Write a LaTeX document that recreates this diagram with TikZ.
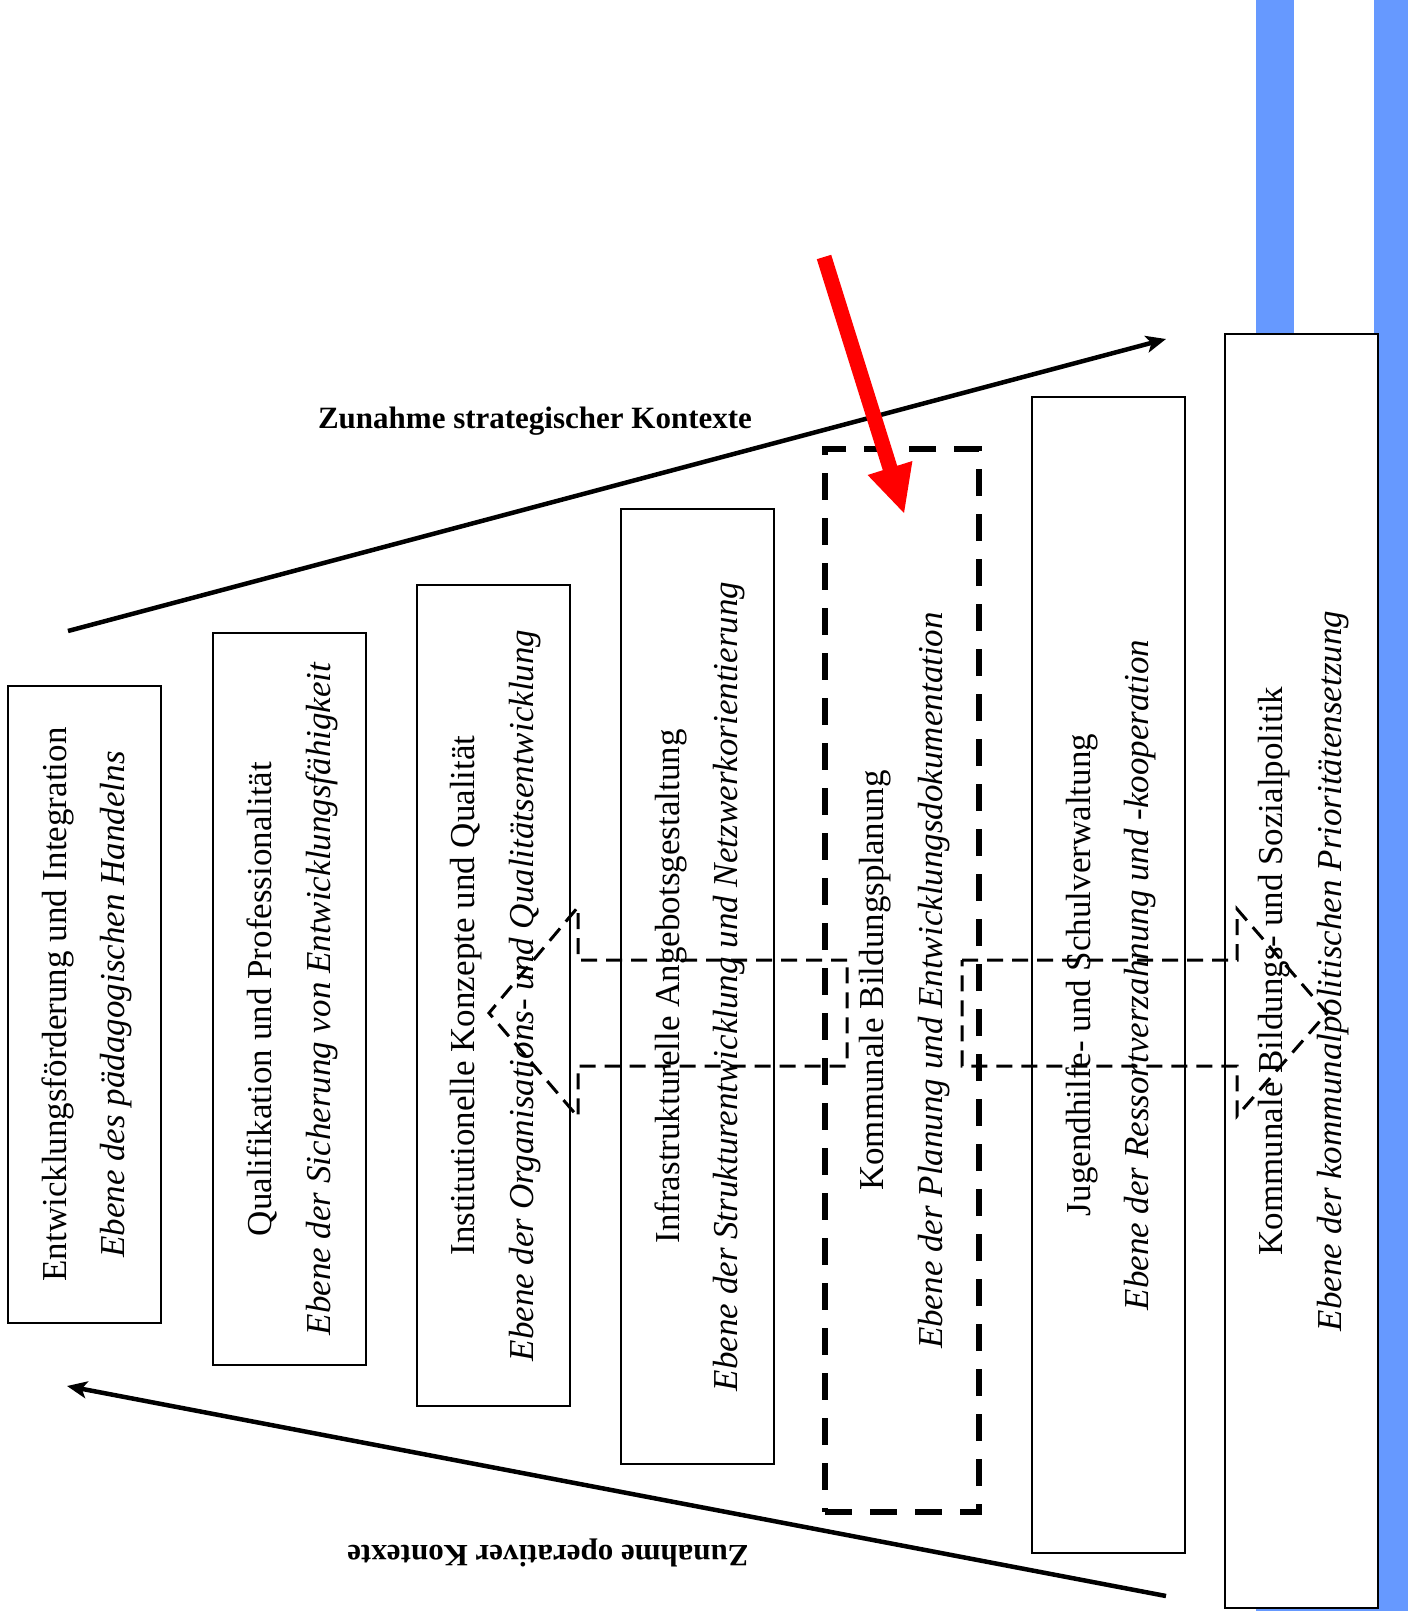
\documentclass[tikz,border=0pt]{standalone}
\usepackage{fontspec}
\setmainfont{Liberation Serif}
\usetikzlibrary{arrows.meta}
\definecolor{barblue}{HTML}{6699FF}
\begin{document}
\begin{tikzpicture}[x=1pt,y=-1pt,
  levelbox/.style={draw=black, line width=2pt, fill=white, inner sep=0pt},
  planbox/.style={draw=black, line width=6pt, dash pattern=on 27pt off 18pt, inner sep=0pt},
  maintext/.style={rotate=90, font=\fontsize{35}{40}\selectfont, inner sep=0pt},
  subtext/.style={rotate=90, font=\fontsize{35}{40}\selectfont\itshape, inner sep=0pt},
  contextarrow/.style={line width=4.5pt, -{Stealth[length=20pt,width=17pt,inset=5pt]}},
  contextlabel/.style={font=\fontsize{31}{36}\selectfont\bfseries, inner sep=0pt},
  blockarrow/.style={line width=3pt, dash pattern=on 16pt off 9pt},
]
\useasboundingbox (0,0) rectangle (1408,1611);
\fill[white] (0,0) rectangle (1408,1611);
% blue bars
\fill[barblue] (1256,0) rectangle (1294,1611);
\fill[barblue] (1374,0) rectangle (1408,1611);
\fill[barblue] (1256,1600) rectangle (1408,1611);
% boxes
\node[levelbox, minimum width=153pt, minimum height=637pt] (b1) at (84.5,1004.5) {};
\node[levelbox, minimum width=153pt, minimum height=732pt] (b2) at (289.5,999) {};
\node[levelbox, minimum width=153pt, minimum height=821pt] (b3) at (493.5,995.5) {};
\node[levelbox, minimum width=153pt, minimum height=955pt] (b4) at (697.5,986.5) {};
\node[planbox, minimum width=154pt, minimum height=1063pt] (b5) at (902,980.5) {};
\node[levelbox, minimum width=153pt, minimum height=1156pt] (b6) at (1108.5,975) {};
\node[levelbox, minimum width=153pt, minimum height=1274pt] (b7) at (1301.5,971) {};
% texts
\node[maintext] (t1) at ([xshift=-27pt]b1.center) {Entwicklungsförderung und Integration};
\node[subtext] (s1) at ([xshift=32pt]b1.center) {Ebene des pädagogischen Handelns};
\node[maintext] (t2) at ([xshift=-27pt]b2.center) {Qualifikation und Professionalität};
\node[subtext] (s2) at ([xshift=32pt]b2.center) {Ebene der Sicherung von Entwicklungsfähigkeit};
\node[maintext] (t3) at ([xshift=-27pt]b3.center) {Institutionelle Konzepte und Qualität};
\node[subtext] (s3) at ([xshift=32pt]b3.center) {Ebene der Organisations- und Qualitätsentwicklung};
\node[maintext] (t4) at ([xshift=-27pt]b4.center) {Infrastrukturelle Angebotsgestaltung};
\node[subtext] (s4) at ([xshift=32pt]b4.center) {Ebene der Strukturentwicklung und Netzwerkorientierung};
\node[maintext] (t5) at ([xshift=-27pt]b5.center) {Kommunale Bildungsplanung};
\node[subtext] (s5) at ([xshift=32pt]b5.center) {Ebene der Planung und Entwicklungsdokumentation};
\node[maintext] (t6) at ([xshift=-27pt]b6.center) {Jugendhilfe- und Schulverwaltung};
\node[subtext] (s6) at ([xshift=32pt]b6.center) {Ebene der Ressortverzahnung und -kooperation};
\node[maintext] (t7) at ([xshift=-27pt]b7.center) {Kommunale Bildungs- und Sozialpolitik};
\node[subtext] (s7) at ([xshift=32pt]b7.center) {Ebene der kommunalpolitischen Prioritätensetzung};
% context arrows
\coordinate (sa) at (68,631);
\coordinate (se) at (1166,339);
\draw[contextarrow] (sa) -- (se);
\coordinate (oa) at (1166,1596);
\coordinate (oe) at (67,1386);
\draw[contextarrow] (oa) -- (oe);
\node[contextlabel] (ls) at (535,421) {Zunahme strategischer Kontexte};
\node[contextlabel, rotate=180] (lo) at (548,1553) {Zunahme operativer Kontexte};
% dashed block arrows
\draw[blockarrow] (847,960) -- (578,960) -- (578,907) -- (489,1013) -- (578,1117) -- (578,1066) -- (847,1066) -- cycle;
\draw[blockarrow] (962,960) -- (1237,960) -- (1237,909) -- (1327,1013) -- (1237,1116) -- (1237,1066) -- (962,1066) -- cycle;
% red arrow
\fill[red] (816.8,259.2) -- (831.2,254.8) -- (897.2,465.8) -- (912.4,461.0) -- (904,513) -- (867.6,475.0) -- (882.8,470.2) -- cycle;
\end{tikzpicture}
\end{document}
